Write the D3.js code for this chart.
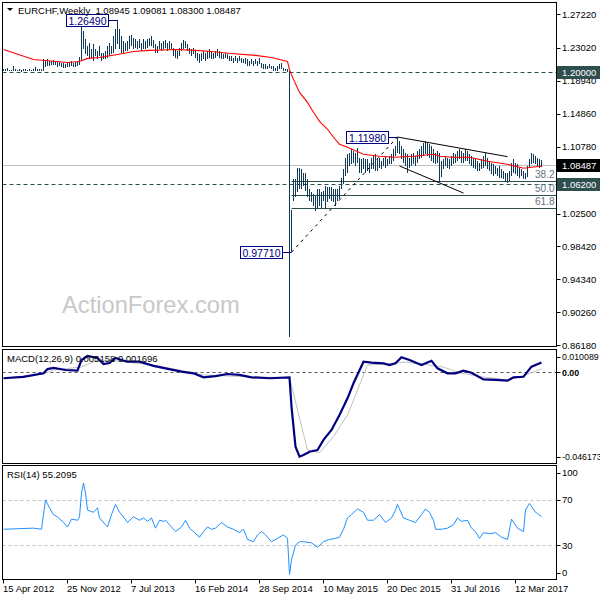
<!DOCTYPE html>
<html>
<head>
<meta charset="utf-8">
<script src="https://cdn.jsdelivr.net/npm/d3@7"></script>
<style>
body { margin: 0; background: #fff; }
svg text { font-family: Tahoma, "Liberation Sans", Arial, sans-serif; font-size: 9.5px; }
</style>
</head>
<body>
<svg id="chart" width="600" height="600"></svg>
<script>
// weekly bars, week 0 = 15 Apr 2012
var weekHigh = [
 1.2045,1.2035,1.2055,1.2030,1.2032,1.2075,1.2040,1.2030,1.2045,1.2030,1.2035,1.2040,1.2030,1.2038,1.2032,1.2042,1.2068,1.2040,1.2035,1.2045,
 1.2165,1.2150,1.2170,1.2145,1.2135,1.2150,1.2140,1.2130,1.2125,1.2115,1.2110,1.2105,1.2120,1.2125,1.2135,1.2120,1.2130,1.2140,1.2195,
 1.2571,1.2509,1.2407,1.2324,1.2366,1.2283,1.2345,1.2283,1.2262,1.2324,1.2242,1.2242,1.2262,1.2324,1.2366,1.2324,1.2447,1.2530,1.2649,1.2530,
 1.2447,1.2386,1.2366,1.2386,1.2447,1.2468,1.2428,1.2407,1.2386,1.2407,1.2366,1.2407,1.2386,1.2407,1.2428,
 1.2448,1.2406,1.2345,1.2324,1.2386,1.2365,1.2386,1.2406,1.2365,1.2386,1.2365,1.2303,1.2283,1.2262,1.2303,1.2365,1.2406,1.2386,1.2345,1.2303,
 1.2283,1.2303,1.2262,1.2241,1.2221,1.2241,1.2262,1.2241,1.2262,1.2283,1.2262,1.2241,1.2262,1.2283,1.2262,1.2241,1.2221,1.2241,1.2221,1.2200,
 1.2200,1.2180,1.2200,1.2180,1.2200,1.2180,1.2159,1.2180,1.2159,1.2139,1.2159,1.2139,1.2159,1.2139,1.2180,1.2118,1.2097,1.2097,1.2077,1.2097,
 1.2077,1.2077,1.2056,1.2077,1.2097,1.2118,1.2056,1.2036,1.2036,
 1.2013,
 1.0300,1.0676,1.0676,1.0820,1.0820,1.0799,1.0758,1.0758,1.0676,1.0552,1.0511,1.0490,1.0470,1.0552,1.0552,1.0511,1.0531,1.0593,1.0573,1.0573,
 1.0573,1.0552,1.0560,1.0552,1.0593,1.0696,1.0799,1.0943,1.0985,1.1005,1.1046,1.1026,1.1005,1.1067,1.0943,1.0923,1.0943,1.0923,1.0923,1.0882,
 1.0943,1.0964,1.0985,1.0923,1.0943,1.0902,1.0943,1.0964,1.0923,1.0964,1.0985,1.1046,1.1090,1.1198,1.1150,
 1.1088,1.1046,1.1005,1.0985,1.0943,1.0985,1.1005,1.0964,1.1026,1.1046,1.1088,1.1128,1.1149,1.1128,1.1110,1.1088,1.1046,1.1005,1.1026,1.1000,
 1.0900,1.0922,1.0963,1.0943,1.0922,1.0963,1.1005,1.0985,1.1026,1.1046,1.1026,1.1005,1.1046,1.1026,1.0985,1.0963,1.0943,1.0922,1.0902,1.0881,
 1.0922,1.0963,1.1005,1.0943,1.0902,1.0881,1.0861,1.0840,1.0820,1.0840,1.0799,1.0779,1.0757,1.0757,1.0779,1.0881,1.0922,1.0881,1.0861,1.0820,
 1.0799,1.0779,1.0757,1.0840,1.0922,1.1005,1.0985,1.0963,1.0943,1.0922,1.0908
];
var weekLow = [
 1.2010,1.2012,1.2015,1.2010,1.2012,1.2015,1.2010,1.2010,1.2012,1.2008,1.2010,1.2012,1.2010,1.2012,1.2010,1.2012,1.2015,1.2015,1.2012,1.2015,
 1.2020,1.2065,1.2080,1.2080,1.2085,1.2095,1.2085,1.2070,1.2075,1.2060,1.2055,1.2050,1.2060,1.2070,1.2075,1.2065,1.2070,1.2080,1.2085,
 1.2140,1.2283,1.2221,1.2200,1.2159,1.2180,1.2138,1.2200,1.2159,1.2200,1.2138,1.2159,1.2159,1.2180,1.2200,1.2221,1.2242,1.2283,1.2345,1.2283,
 1.2242,1.2242,1.2262,1.2262,1.2283,1.2324,1.2283,1.2304,1.2283,1.2304,1.2262,1.2283,1.2292,1.2304,1.2324,
 1.2324,1.2303,1.2241,1.2241,1.2283,1.2262,1.2283,1.2303,1.2262,1.2283,1.2283,1.2200,1.2180,1.2159,1.2200,1.2262,1.2283,1.2303,1.2262,1.2221,
 1.2200,1.2221,1.2180,1.2139,1.2118,1.2139,1.2159,1.2139,1.2159,1.2180,1.2159,1.2159,1.2180,1.2200,1.2180,1.2159,1.2159,1.2180,1.2159,1.2139,
 1.2139,1.2118,1.2139,1.2118,1.2139,1.2118,1.2118,1.2097,1.2077,1.2077,1.2097,1.2077,1.2097,1.2077,1.2097,1.2056,1.2036,1.2036,1.2036,1.2056,
 1.2036,1.2015,1.2015,1.2015,1.2036,1.2036,1.2015,1.2010,1.2005,
 0.8717,
 0.9771,1.0408,1.0449,1.0511,1.0552,1.0552,1.0593,1.0531,1.0449,1.0408,1.0387,1.0346,1.0284,1.0305,1.0346,1.0325,1.0408,1.0305,1.0387,1.0428,
 1.0408,1.0387,1.0346,1.0408,1.0428,1.0552,1.0614,1.0717,1.0758,1.0840,1.0861,1.0882,1.0840,1.0882,1.0758,1.0758,1.0799,1.0758,1.0779,1.0758,
 1.0799,1.0799,1.0779,1.0779,1.0820,1.0799,1.0840,1.0820,1.0840,1.0861,1.0861,1.0902,1.0964,1.1005,1.0985,
 1.0923,1.0882,1.0841,1.0758,1.0820,1.0841,1.0861,1.0841,1.0882,1.0923,1.0943,1.0964,1.0985,1.0964,1.0943,1.0902,1.0881,1.0861,1.0881,1.0640,
 1.0700,1.0799,1.0840,1.0820,1.0799,1.0840,1.0861,1.0881,1.0902,1.0922,1.0881,1.0881,1.0902,1.0902,1.0861,1.0840,1.0820,1.0799,1.0779,1.0779,
 1.0799,1.0820,1.0840,1.0799,1.0779,1.0737,1.0716,1.0737,1.0716,1.0696,1.0696,1.0675,1.0655,1.0634,1.0655,1.0716,1.0757,1.0737,1.0716,1.0696,
 1.0716,1.0675,1.0675,1.0700,1.0820,1.0861,1.0881,1.0861,1.0840,1.0820,1.0830
];

// red moving average, read at these weeks
var maWeeks = [0, 15, 32, 38, 42, 48, 57, 65, 73, 87, 96, 104, 114, 126, 134, 142, 143, 145, 148, 152, 155, 158, 162, 165, 168, 172, 180, 188, 195, 205, 210, 215, 218, 225, 233, 242, 252, 260, 264, 269];
var maValues = [1.2283, 1.2159, 1.2122, 1.2134, 1.2172, 1.2184, 1.2221, 1.2258, 1.2271, 1.2283, 1.2271, 1.2258, 1.2233, 1.2209, 1.2184, 1.2134, 1.2030, 1.1912, 1.1751, 1.1627, 1.1504, 1.1393, 1.1294, 1.1195, 1.1108, 1.1071, 1.0984, 1.0959, 1.0947, 1.0959, 1.0972, 1.0984, 1.0959, 1.0947, 1.0947, 1.0897, 1.0860, 1.0811, 1.0823, 1.0836];

// MACD(12,26,9)
var macdWeeks = [0, 10, 20, 22, 25, 31, 37, 39, 42, 47, 50, 53, 56, 59, 62, 68, 75, 81, 89, 95, 100, 106, 112, 118, 124, 133, 143, 144, 146, 148, 150, 153, 157, 160, 164, 168, 172, 175, 180, 184, 190, 193, 196, 199, 203, 209, 214, 217, 222, 226, 230, 234, 240, 246, 252, 255, 260, 264, 269];
var macdMain = [-0.0034, -0.0026, -0.0007, 0.0016, 0.0022, 0.0011, 0.0007, 0.0065, 0.0087, 0.0076, 0.0043, 0.0049, 0.0076, 0.0065, 0.0056, 0.0056, 0.0033, 0.0020, 0.0002, -0.0007, -0.0029, -0.0022, -0.0011, -0.0016, -0.0029, -0.0034, -0.0029, -0.0188, -0.0406, -0.0460, -0.0451, -0.0433, -0.0424, -0.0369, -0.0315, -0.0234, -0.0143, -0.0061, 0.0056, 0.0051, 0.0047, 0.0038, 0.0047, 0.0080, 0.0065, 0.0038, 0.0061, 0.0020, -0.0007, -0.0007, 0.0007, -0.0004, -0.0040, -0.0043, -0.0047, -0.0029, -0.0026, 0.0029, 0.0052];
var signalWeeks = [0, 20, 25, 39, 47, 56, 75, 100, 124, 143, 152, 158, 165, 172, 178, 182, 190, 201, 209, 220, 228, 239, 252, 261, 269];
var signalValues = [-0.0033, -0.0011, 0.0011, 0.0027, 0.0065, 0.0060, 0.0038, -0.0016, -0.0027, -0.0030, -0.0424, -0.0438, -0.0351, -0.0234, -0.0071, 0.0038, 0.0043, 0.0054, 0.0043, 0.0027, -0.0005, -0.0026, -0.0043, -0.0016, 0.0017];

// RSI(14)
var rsiWeeks = [0, 15, 19, 21, 23, 25, 27, 30, 32, 34, 37, 38, 39, 40, 41, 42, 45, 47, 48, 51, 52, 54, 56, 58, 60, 62, 65, 68, 70, 72, 74, 76, 78, 80, 81, 83, 86, 89, 91, 93, 95, 98, 100, 102, 104, 106, 109, 112, 115, 118, 120, 122, 125, 127, 129, 131, 134, 137, 140, 142, 143, 144, 146, 148, 150, 154, 157, 160, 163, 166, 168, 170, 172, 174, 177, 180, 182, 185, 188, 191, 194, 196, 197, 200, 203, 206, 209, 211, 213, 215, 216, 219, 222, 225, 227, 229, 232, 234, 236, 238, 240, 243, 246, 249, 252, 254, 257, 260, 261, 263, 266, 267, 269];
var rsiValues = [44, 45, 44, 70, 63, 57, 55, 50, 46, 53, 52, 55, 76, 85, 76, 61, 59, 63, 54, 48, 46, 57, 66, 59, 55, 50, 55, 52, 54, 51, 54, 45, 52, 51, 52, 48, 42, 46, 52, 45, 42, 37, 42, 46, 44, 45, 50, 46, 44, 41, 44, 35, 33, 39, 42, 39, 33, 36, 39, 36, 4, 17, 30, 33, 33, 32, 28, 33, 35, 36, 37, 44, 54, 57, 62, 59, 52, 52, 57, 50, 54, 61, 66, 54, 52, 50, 57, 62, 59, 52, 44, 44, 45, 48, 54, 51, 52, 45, 42, 36, 41, 40, 41, 37, 35, 53, 45, 42, 61, 67, 59, 58, 55.2];

var dateTickWeeks = [0, 32, 64, 96, 128, 160, 192, 224, 256];
var dateTickLabels = ["15 Apr 2012", "25 Nov 2012", "7 Jul 2013", "16 Feb 2014", "28 Sep 2014", "10 May 2015", "20 Dec 2015", "31 Jul 2016", "12 Mar 2017"];
var priceTicks = [1.2722, 1.2302, 1.1894, 1.1486, 1.1078, 1.0250, 0.9842, 0.9434, 0.9026, 0.8618];
var macdTicks = [0.010089, 0, -0.046173];
var rsiTicks = [100, 70, 30, 0];

// marked levels
var floorLevel = 1.2000;
var supportLevel = 1.0620;
var lastClose = 1.08487;
var swingLowWeek = 144, swingLow = 0.9771;
var swingHighWeek = 197, swingHigh = 1.1198;
var topWeek = 57, topHigh = 1.2649;
var fibLevels = [38.2, 50.0, 61.8];
var upperTrend = [[197, 1.1198], [252, 1.0955]];
var lowerTrend = [[198, 1.0839], [230, 1.0504]];

var svg = d3.select("#chart");
var panelL = 2.5, panelR = 556.5;
var mainTop = 2.5, mainBot = 346.5;
var macdTop = 349.5, macdBot = 463.5;
var rsiTop = 465.5, rsiBot = 579.5;

var x = d3.scaleLinear().domain([0, 269]).range([3.5, 541.5]);
var yP = d3.scaleLinear().domain([0.8618, 1.2722]).range([345.3, 14]);
var yM = d3.scaleLinear().domain([-0.046173, 0]).range([457, 372]);
var yR = d3.scaleLinear().domain([0, 100]).range([579, 466]);

var barColor = "#0e3a57";
var levelColor = "#2f4f4f";

function clip(id, top, bot) {
    svg.append("clipPath").attr("id", id).append("rect")
        .attr("x", panelL).attr("y", top).attr("width", panelR - panelL).attr("height", bot - top);
    return svg.append("g").attr("clip-path", "url(#" + id + ")");
}

//----- main panel
var main = clip("clipMain", mainTop, mainBot);

main.append("text").attr("x", 62).attr("y", 313)
    .style("font-family", "'Liberation Sans', Arial, sans-serif").style("font-size", "23.7px")
    .attr("fill", "#c8c8c8").text("ActionForex.com");

function hline(g, v, color, dash, x0) {
    var yy = Math.round(yP(v)) + 0.5;
    g.append("line").attr("x1", x0 === undefined ? panelL : x0).attr("x2", panelR)
        .attr("y1", yy).attr("y2", yy).attr("stroke", color)
        .attr("stroke-dasharray", dash || null);
}

hline(main, lastClose, "#c0c0c0");
hline(main, floorLevel, levelColor, "4,3");
hline(main, supportLevel, levelColor, "4,3");

// fibonacci retracement of the 0.9771 -> 1.1198 rally
fibLevels.forEach(function (f) {
    var v = swingHigh - (swingHigh - swingLow) * f / 100;
    hline(main, v, levelColor, null, x(swingLowWeek));
    main.append("text").attr("x", panelR - 2).attr("y", Math.round(yP(v)) - 3)
        .attr("text-anchor", "end").style("font-size", "10px").attr("fill", "#5f7380").text(f.toFixed(1));
});

main.append("g").attr("shape-rendering", "crispEdges")
    .selectAll("line").data(weekHigh).join("line")
    .attr("x1", function (d, i) { return x(i); })
    .attr("x2", function (d, i) { return x(i); })
    .attr("y1", function (d) { return Math.round(yP(d)); })
    .attr("y2", function (d, i) { return Math.max(Math.round(yP(weekLow[i])), Math.round(yP(d)) + 1); })
    .attr("stroke", barColor).attr("stroke-width", 1);

var maLine = d3.line().x(function (d, i) { return x(maWeeks[i]); }).y(function (d) { return yP(d); });
main.append("path").attr("d", maLine(maValues)).attr("fill", "none")
    .attr("stroke", "#ff0000").attr("stroke-width", 1.1);

function trend(pts, dash) {
    main.append("line")
        .attr("x1", x(pts[0][0])).attr("y1", yP(pts[0][1]))
        .attr("x2", x(pts[1][0])).attr("y2", yP(pts[1][1]))
        .attr("stroke", "#000").attr("stroke-width", 1)
        .attr("stroke-dasharray", dash || null);
}
trend(upperTrend);
trend(lowerTrend);
trend([[swingLowWeek, swingLow], [swingHighWeek, swingHigh]], "3,4");

function priceTag(week, v) {
    var yy = Math.round(yP(v)) + 0.5;
    var bx = x(week) - 9;
    main.append("line").attr("x1", bx).attr("x2", x(week)).attr("y1", yy).attr("y2", yy)
        .attr("stroke", "#000080");
    main.append("rect").attr("x", bx - 42).attr("y", yy - 6).attr("width", 42).attr("height", 12)
        .attr("fill", "#fff").attr("stroke", "#000080");
    main.append("text").attr("x", bx - 21).attr("y", yy + 4).attr("text-anchor", "middle")
        .style("font-size", "10.5px").attr("fill", "#000080").text(v.toFixed(5));
}
priceTag(topWeek, topHigh);
priceTag(swingHighWeek, swingHigh);
priceTag(swingLowWeek, swingLow);

svg.append("path").attr("d", "M7,8 L13,8 L10,11 Z").attr("fill", "#000");
svg.append("text").attr("x", 18).attr("y", 13.5).style("white-space", "pre")
    .text("EURCHF,Weekly  1.08945 1.09081 1.08300 1.08487");

//----- MACD panel
var macd = clip("clipMacd", macdTop, macdBot);
macd.append("line").attr("x1", panelL).attr("x2", panelR).attr("y1", yM(0) + 0.5).attr("y2", yM(0) + 0.5)
    .attr("stroke", "#555").attr("stroke-dasharray", "3,3");
var sigLine = d3.line().x(function (d, i) { return x(signalWeeks[i]); }).y(function (d) { return yM(d); });
macd.append("path").attr("d", sigLine(signalValues)).attr("fill", "none").attr("stroke", "#c0c0c0").attr("stroke-width", 1);
var macdLine = d3.line().x(function (d, i) { return x(macdWeeks[i]); }).y(function (d) { return yM(d); });
macd.append("path").attr("d", macdLine(macdMain)).attr("fill", "none").attr("stroke", "#000080").attr("stroke-width", 2.2);
svg.append("text").attr("x", 7).attr("y", 362).text("MACD(12,26,9) 0.005158 0.001696");

//----- RSI panel
var rsi = clip("clipRsi", rsiTop, rsiBot);
[70, 30].forEach(function (v) {
    rsi.append("line").attr("x1", panelL).attr("x2", panelR).attr("y1", Math.round(yR(v)) + 0.5).attr("y2", Math.round(yR(v)) + 0.5)
        .attr("stroke", "#c0c0c0").attr("stroke-dasharray", "3,3");
});
var rsiLine = d3.line().x(function (d, i) { return x(rsiWeeks[i]); }).y(function (d) { return yR(d); });
rsi.append("path").attr("d", rsiLine(rsiValues)).attr("fill", "none").attr("stroke", "#1e90ff").attr("stroke-width", 1);
svg.append("text").attr("x", 7).attr("y", 478).text("RSI(14) 55.2095");

//----- frames
[[mainTop, mainBot], [macdTop, macdBot], [rsiTop, rsiBot]].forEach(function (p) {
    svg.append("rect").attr("x", panelL).attr("y", p[0]).attr("width", panelR - panelL).attr("height", p[1] - p[0])
        .attr("fill", "none").attr("stroke", "#000");
});

//----- right axis labels
function axisLabels(ticks, scale, top, bot, fmt, size) {
    ticks.forEach(function (v) {
        var yy = Math.min(Math.max(scale(v), top + 7), bot - 7);
        svg.append("line").attr("x1", panelR).attr("x2", panelR + 4)
            .attr("y1", Math.round(yy) + 0.5).attr("y2", Math.round(yy) + 0.5).attr("stroke", "#000");
        var t = svg.append("text").attr("x", 562).attr("y", yy + 3.5).text(fmt(v));
        if (size) t.style("font-size", size);
        if (v === 0 && size) t.style("font-weight", "bold");
    });
}
axisLabels(priceTicks, yP, 0, 352, function (v) { return v.toFixed(5); });
axisLabels(macdTicks, yM, macdTop, macdBot, function (v) { return v === 0 ? "0.00" : String(v); }, "8.8px");
axisLabels(rsiTicks, yR, rsiTop, rsiBot, function (v) { return String(v); });

function axisTag(v, fill) {
    var yy = Math.round(yP(v));
    svg.append("rect").attr("x", 557).attr("y", yy - 6).attr("width", 43).attr("height", 13).attr("fill", fill);
    svg.append("text").attr("x", 562).attr("y", yy + 4).attr("fill", "#fff").text(v.toFixed(5));
}
axisTag(floorLevel, levelColor);
axisTag(lastClose, "#000");
axisTag(supportLevel, levelColor);

//----- date axis
dateTickWeeks.forEach(function (w, k) {
    svg.append("line").attr("x1", x(w)).attr("x2", x(w)).attr("y1", rsiBot).attr("y2", rsiBot + 4).attr("stroke", "#000");
    svg.append("text").attr("x", x(w) - 0.5).attr("y", 592).text(dateTickLabels[k]);
});
</script>
</body>
</html>
